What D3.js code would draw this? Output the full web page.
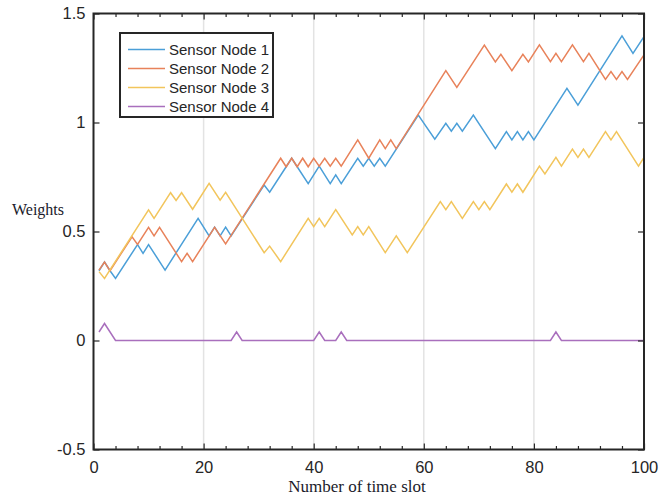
<!DOCTYPE html>
<html>
<head>
<meta charset="utf-8">
<script src="https://cdn.jsdelivr.net/npm/d3@7"></script>
<style>
  body { margin: 0; background: #fff; }
</style>
</head>
<body>
<div id="chart"></div>
<script>
// turning points of each random walk (time slot, weight)
var node1X = [1, 2, 3, 4, 8, 9, 10, 13, 19, 21, 22, 23, 24, 25, 31, 32, 35, 36, 37, 39, 41, 43, 44, 45, 48, 49, 50, 51, 52, 53, 59, 62, 64, 65, 66, 67, 69, 73, 75, 76, 77, 78, 79, 80, 86, 88, 96, 98, 100];
var node1Y = [0.32, 0.36, 0.32, 0.285, 0.44, 0.40, 0.44, 0.323, 0.56, 0.48, 0.52, 0.48, 0.52, 0.48, 0.713, 0.68, 0.797, 0.836, 0.797, 0.72, 0.80, 0.72, 0.76, 0.72, 0.836, 0.80, 0.836, 0.80, 0.836, 0.80, 1.034, 0.923, 0.996, 0.96, 0.996, 0.96, 1.034, 0.88, 0.958, 0.92, 0.958, 0.92, 0.958, 0.92, 1.157, 1.08, 1.397, 1.317, 1.394];

var node2X = [1, 2, 3, 7, 8, 10, 11, 12, 16, 17, 18, 22, 24, 34, 35, 36, 37, 38, 39, 40, 41, 42, 43, 44, 45, 48, 50, 52, 53, 54, 55, 64, 66, 71, 73, 74, 76, 78, 79, 81, 83, 84, 85, 87, 89, 90, 93, 94, 95, 96, 97, 100];
var node2Y = [0.323, 0.36, 0.32, 0.476, 0.441, 0.519, 0.48, 0.519, 0.362, 0.40, 0.362, 0.519, 0.443, 0.836, 0.797, 0.836, 0.797, 0.836, 0.797, 0.836, 0.80, 0.836, 0.80, 0.836, 0.80, 0.92, 0.836, 0.92, 0.88, 0.92, 0.88, 1.238, 1.161, 1.355, 1.278, 1.313, 1.238, 1.313, 1.278, 1.356, 1.279, 1.317, 1.279, 1.356, 1.279, 1.317, 1.198, 1.234, 1.198, 1.234, 1.198, 1.31];

var node3X = [1, 2, 10, 11, 14, 15, 16, 18, 21, 23, 24, 31, 32, 34, 39, 40, 41, 42, 44, 47, 48, 49, 50, 53, 55, 57, 63, 64, 65, 67, 69, 70, 71, 72, 75, 76, 77, 78, 81, 82, 84, 85, 87, 88, 89, 90, 93, 94, 95, 99, 100];
var node3Y = [0.316, 0.285, 0.599, 0.56, 0.678, 0.642, 0.678, 0.602, 0.721, 0.644, 0.68, 0.403, 0.433, 0.362, 0.56, 0.522, 0.56, 0.522, 0.60, 0.484, 0.522, 0.484, 0.522, 0.403, 0.48, 0.403, 0.637, 0.60, 0.637, 0.56, 0.637, 0.60, 0.637, 0.60, 0.718, 0.68, 0.718, 0.68, 0.80, 0.764, 0.84, 0.80, 0.878, 0.84, 0.878, 0.84, 0.958, 0.92, 0.958, 0.80, 0.84];

var node4X = [1, 2, 4, 25, 26, 27, 40, 41, 42, 44, 45, 46, 83, 84, 85, 100];
var node4Y = [0.039, 0.078, 0, 0, 0.039, 0, 0, 0.039, 0, 0, 0.039, 0, 0, 0.039, 0, 0];

var seriesNames = ["Sensor Node 1", "Sensor Node 2", "Sensor Node 3", "Sensor Node 4"];
var seriesColors = ["#4b9fd8", "#e8825a", "#f2c55c", "#a96fbd"];
var xTicks = [0, 20, 40, 60, 80, 100];
var yTicks = [-0.5, 0, 0.5, 1, 1.5];

var series = [
    [node1X, node1Y],
    [node2X, node2Y],
    [node3X, node3Y],
    [node4X, node4Y]
].map((s, i) => ({
    name: seriesNames[i],
    color: seriesColors[i],
    points: s[0].map((t, j) => [t, s[1][j]])
}));

var width = 670, height = 495;
// note: "top" is reserved on window, so use plot* names
var plotL = 93.5, plotR = 644, plotT = 13.5, plotB = 449.5;
var axisColor = "#262626";
var tickFont = "Liberation Sans, Arial, sans-serif";

var x = d3.scaleLinear().domain([0, 100]).range([plotL, plotR]);
var y = d3.scaleLinear().domain([-0.5, 1.5]).range([plotB, plotT]);

var svg = d3.select("#chart")
    .append("svg")
    .attr("width", width)
    .attr("height", height)
    .style("background", "#fff");

// vertical grid
svg.append("g")
    .selectAll("line")
    .data(xTicks.slice(1, -1))
    .join("line")
    .attr("x1", d => x(d)).attr("x2", d => x(d))
    .attr("y1", plotT).attr("y2", plotB)
    .attr("stroke", "#e3e3e3")
    .attr("stroke-width", 1.5);

// lines
var line = d3.line().x(d => x(d[0])).y(d => y(d[1]));

svg.append("g")
    .attr("fill", "none")
    .selectAll("path")
    .data(series)
    .join("path")
    .attr("d", d => line(d.points))
    .attr("stroke", d => d.color)
    .attr("stroke-width", 1.5)
    .attr("stroke-linejoin", "miter");

// axes (ticks point inward)
var minorX = d3.range(0, 101, 4).filter(d => d % 20 != 0);

function styleAxis(g) {
    g.select(".domain").remove();
    g.selectAll("line").attr("stroke", axisColor).attr("stroke-width", 1.2);
    g.selectAll("text")
        .attr("fill", axisColor)
        .style("font-family", tickFont)
        .style("font-size", "16.5px");
}

svg.append("g")
    .attr("transform", `translate(0,${plotB})`)
    .call(d3.axisBottom(x).tickValues(xTicks).tickSize(-6).tickPadding(12).tickFormat(d => String(d)))
    .call(styleAxis);
svg.append("g")
    .attr("transform", `translate(0,${plotB})`)
    .call(d3.axisBottom(x).tickValues(minorX).tickSize(-3.5).tickFormat(""))
    .call(styleAxis);
svg.append("g")
    .attr("transform", `translate(0,${plotT})`)
    .call(d3.axisTop(x).tickValues(xTicks).tickSize(-6).tickFormat(""))
    .call(styleAxis);
svg.append("g")
    .attr("transform", `translate(0,${plotT})`)
    .call(d3.axisTop(x).tickValues(minorX).tickSize(-3.5).tickFormat(""))
    .call(styleAxis);
svg.append("g")
    .attr("transform", `translate(${plotL},0)`)
    .call(d3.axisLeft(y).tickValues(yTicks).tickSize(-6).tickPadding(8).tickFormat(d => String(d)))
    .call(styleAxis);
svg.append("g")
    .attr("transform", `translate(${plotR},0)`)
    .call(d3.axisRight(y).tickValues(yTicks).tickSize(-6).tickFormat(""))
    .call(styleAxis);

// box
svg.append("rect")
    .attr("x", plotL).attr("y", plotT)
    .attr("width", plotR - plotL).attr("height", plotB - plotT)
    .attr("fill", "none")
    .attr("stroke", axisColor)
    .attr("stroke-width", 2);

// axis titles
svg.append("text")
    .attr("x", 12).attr("y", 215)
    .attr("fill", "#1a1a2a")
    .style("font-family", "Liberation Serif, Times New Roman, serif")
    .style("font-size", "16px")
    .text("Weights");

svg.append("text")
    .attr("x", 357).attr("y", 492)
    .attr("text-anchor", "middle")
    .attr("fill", "#1a1a2a")
    .style("font-family", "Liberation Serif, Times New Roman, serif")
    .style("font-size", "17px")
    .text("Number of time slot");

// legend
var legend = svg.append("g");
legend.append("rect")
    .attr("x", 120).attr("y", 33)
    .attr("width", 153).attr("height", 84)
    .attr("fill", "#fff")
    .attr("stroke", axisColor)
    .attr("stroke-width", 2);

var item = legend.selectAll("g")
    .data(series)
    .join("g")
    .attr("transform", (d, i) => `translate(0,${49.5 + i * 19})`);
item.append("line")
    .attr("x1", 128).attr("x2", 165)
    .attr("stroke", d => d.color)
    .attr("stroke-width", 1.6);
item.append("text")
    .attr("x", 169)
    .attr("dy", "0.35em")
    .attr("fill", axisColor)
    .style("font-family", tickFont)
    .style("font-size", "15px")
    .text(d => d.name);
</script>
</body>
</html>
